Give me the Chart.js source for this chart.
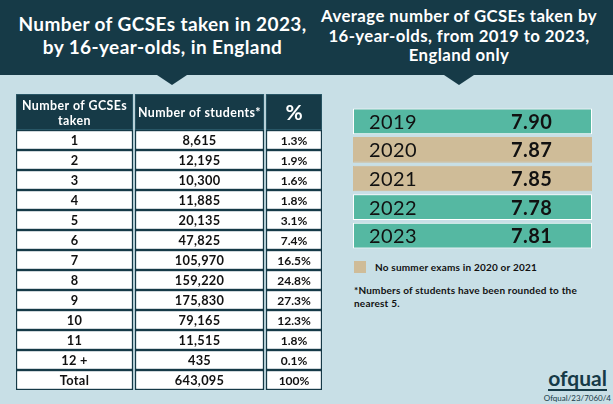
<!DOCTYPE html>
<html>
<head>
<meta charset="utf-8">
<script src="https://cdn.jsdelivr.net/npm/chart.js@4"></script>
<style>
  html, body { margin: 0; padding: 0; }
  body { width: 613px; height: 404px; position: relative; overflow: hidden; background: #c8dfe6; font-family: Lato, sans-serif; color: #111; }
  canvas { position: absolute; }
  .banner { position: absolute; left: 0; top: 0; width: 613px; height: 75px; background: #163a47; }
  .arrow { position: absolute; top: 75px; width: 0; height: 0; border-left: 15px solid transparent; border-right: 15px solid transparent; border-top: 10px solid #163a47; }
  .title { position: absolute; color: #fff; font-weight: 700; text-align: center; white-space: nowrap; }
  #title1 { left: 0; width: 325px; top: 12px; font-size: 19px; line-height: 23px; letter-spacing: 0.4px; }
  #title2 { left: 310px; width: 298px; top: 6px; font-size: 16.8px; line-height: 19.5px; letter-spacing: 0.4px; }
  .swatch { position: absolute; left: 354px; top: 261px; width: 12px; height: 12px; background: #cfbc98; }
  .note { position: absolute; left: 354px; font-size: 10px; font-weight: 700; line-height: 13px; letter-spacing: 0.2px; white-space: nowrap; }
  #logo { position: absolute; left: 548px; top: 366px; width: 59px; text-align: center; font-size: 21px; font-weight: 700; line-height: 23px; color: #163a47; border-bottom: 2px solid #163a47; }
  #ref { position: absolute; right: 2px; top: 393px; font-size: 8px; line-height: 10px; color: #163a47; }
</style>
</head>
<body>
<div class="banner"></div>
<div class="arrow" style="left:157px"></div>
<div class="arrow" style="left:444px"></div>
<div class="title" id="title1">Number of GCSEs taken in 2023,<br>by 16-year-olds, in England</div>
<div class="title" id="title2">Average number of GCSEs taken by<br>16-year-olds, from 2019 to 2023,<br>England only</div>

<canvas id="tableHead" width="306" height="36" style="left:16px;top:94px"></canvas>
<canvas id="tableBody" width="306" height="260" style="left:16px;top:130px"></canvas>
<canvas id="yearChart" width="239" height="143" style="left:353px;top:107px"></canvas>

<div class="swatch"></div>
<div class="note" style="left:375px;top:261px">No summer exams in 2020 or 2021</div>
<div class="note" style="top:284px">*Numbers of students have been rounded to the<br>nearest 5.</div>
<div id="logo">ofqual</div>
<div id="ref">Ofqual/23/7060/4</div>

<script>
const columnHeaders = ['Number of GCSEs\ntaken', 'Number of students*', '%']
const gcsesTaken = ['1', '2', '3', '4', '5', '6', '7', '8', '9', '10', '11', '12 +', 'Total']
const students = [8615, 12195, 10300, 11885, 20135, 47825, 105970, 159220, 175830, 79165, 11515, 435, 643095]
const percents = ['1.3%', '1.9%', '1.6%', '1.8%', '3.1%', '7.4%', '16.5%', '24.8%', '27.3%', '12.3%', '1.8%', '0.1%', '100%']

const years = ['2019', '2020', '2021', '2022', '2023']
const averages = ['7.90', '7.87', '7.85', '7.78', '7.81']
const noExams = ['2020', '2021']

const DARK = '#163a47'
const GREEN = '#55b8a2'
const TAN = '#cfbc98'

// column extents in table pixels, used as floating bars
const columnSpans = [[0, 117], [119, 248], [250, 306]]

// bars have no text of their own, so write each cell's text on top of its bar
const cellText = {
  id: 'cellText',
  afterDatasetsDraw(chart) {
    const ctx = chart.ctx
    chart.data.datasets.forEach((ds, d) => {
      const meta = chart.getDatasetMeta(d)
      meta.data.forEach((bar, i) => {
        const lines = String(ds.texts[i]).split('\n')
        ctx.save()
        ctx.font = ds.textFont
        ctx.fillStyle = ds.textColor
        ctx.letterSpacing = ds.textSpacing || '0px'
        ctx.textBaseline = 'middle'
        ctx.textAlign = ds.textAlign || 'center'
        const left = Math.min(bar.x, bar.base)
        const right = Math.max(bar.x, bar.base)
        const x = ds.textX !== undefined ? left + ds.textX : (left + right) / 2
        lines.forEach((line, l) => {
          ctx.fillText(line, x, bar.y + (l - (lines.length - 1) / 2) * 15 + 1)
        })
        ctx.restore()
      })
    })
  },
}

const hiddenScales = (xMax) => ({
  x: { display: false, min: 0, max: xMax, stacked: false },
  y: { display: false, stacked: true },
})

const baseOptions = (xMax) => ({
  indexAxis: 'y',
  responsive: false,
  animation: false,
  layout: { padding: 0 },
  scales: hiddenScales(xMax),
  plugins: { legend: { display: false }, tooltip: { enabled: false } },
})

const columnDataset = (span, rowCount, extra) => ({
  data: Array(rowCount).fill(span),
  barPercentage: 1,
  categoryPercentage: 1,
  borderSkipped: false,
  ...extra,
})

new Chart(document.getElementById('tableHead'), {
  type: 'bar',
  plugins: [cellText],
  data: {
    labels: ['header'],
    datasets: columnHeaders.map((h, c) => columnDataset(columnSpans[c], 1, {
      backgroundColor: DARK,
      borderColor: '#2f6070',
      borderWidth: 1,
      texts: [h],
      textColor: '#fff',
      textFont: c === 2 ? '700 21px Lato' : '700 12.4px Lato',
      textSpacing: c === 2 ? '0px' : '0.4px',
    })),
  },
  options: baseOptions(306),
})

const bodyColumns = [
  { texts: gcsesTaken, font: '700 12.8px Lato', spacing: '0.3px' },
  { texts: students.map((n) => n.toLocaleString('en-GB')), font: '700 12.8px Lato', spacing: '0.3px' },
  { texts: percents, font: '700 12px Lato', spacing: '0px' },
]

new Chart(document.getElementById('tableBody'), {
  type: 'bar',
  plugins: [cellText],
  data: {
    labels: gcsesTaken,
    datasets: bodyColumns.map((col, c) => columnDataset(columnSpans[c], gcsesTaken.length, {
      backgroundColor: '#fff',
      borderColor: DARK,
      borderWidth: 1.5,
      texts: col.texts,
      textColor: '#111',
      textFont: col.font,
      textSpacing: col.spacing,
    })),
  },
  options: baseOptions(306),
})

const yearColors = years.map((y) => (noExams.includes(y) ? TAN : GREEN))
const yearBorders = years.map((y) => (noExams.includes(y) ? TAN : '#fff'))

new Chart(document.getElementById('yearChart'), {
  type: 'bar',
  plugins: [cellText],
  data: {
    labels: years,
    datasets: [
      columnDataset([0, 1], years.length, {
        barPercentage: 0.9,
        backgroundColor: yearColors,
        borderColor: yearBorders,
        borderWidth: 1,
        texts: years,
        textColor: '#111',
        textFont: '400 20px Lato',
        textSpacing: '0.4px',
        textAlign: 'left',
        textX: 16,
      }),
      columnDataset([0, 1], years.length, {
        barPercentage: 0.9,
        backgroundColor: 'rgba(0,0,0,0)',
        borderWidth: 0,
        texts: averages,
        textColor: '#111',
        textFont: '700 20px Lato',
        textSpacing: '0.4px',
        textAlign: 'left',
        textX: 158,
      }),
    ],
  },
  options: baseOptions(1),
})
</script>
</body>
</html>
